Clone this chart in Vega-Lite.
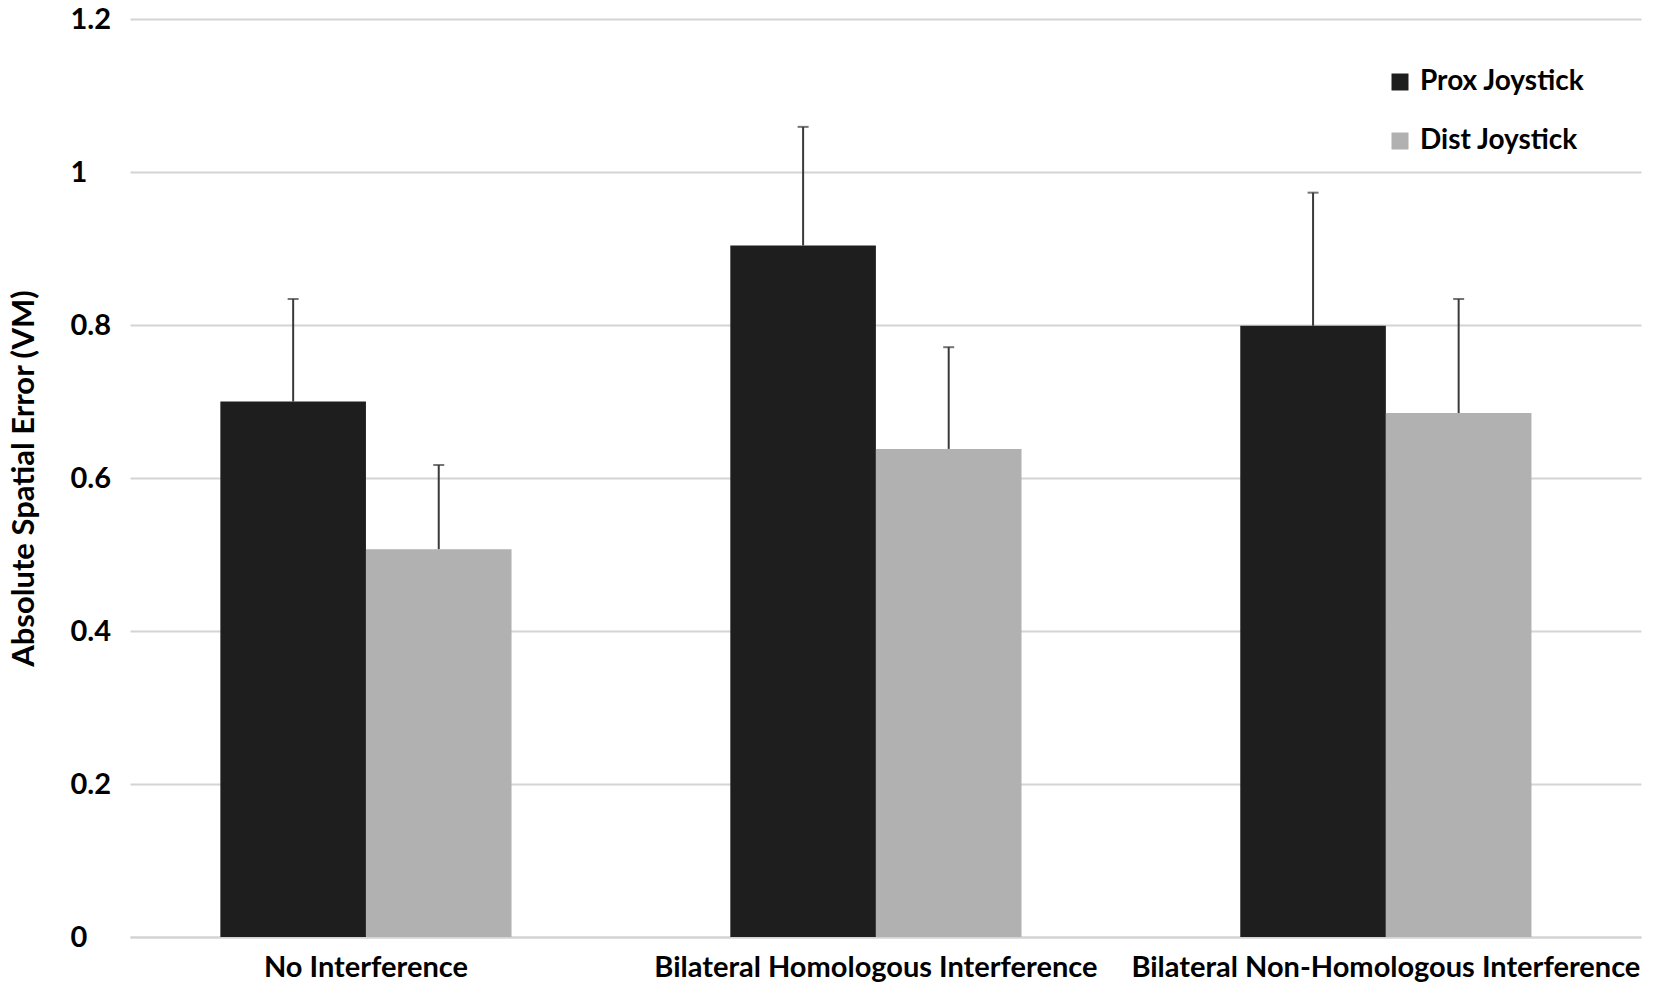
{
  "$schema": "https://vega.github.io/schema/vega-lite/v6.json",
  "width": 1511,
  "height": 918,
  "autosize": {"type": "none"},
  "padding": {"left": 130, "top": 19, "right": 13, "bottom": 57},
  "background": "white",
  "config": {
    "view": {"stroke": null},
    "font": "Lato",
    "axis": {"labelFont": "Lato", "labelFontWeight": "bold", "labelColor": "#000000", "titleFont": "Lato", "titleFontWeight": "bold", "titleColor": "#000000"},
    "legend": {"labelFont": "Lato", "labelFontWeight": "bold", "labelColor": "#000000"}
  },
  "data": {
    "values": [
      {"condition": "No Interference", "joystick": "Prox Joystick", "mean": 0.700, "upper": 0.834},
      {"condition": "No Interference", "joystick": "Dist Joystick", "mean": 0.507, "upper": 0.617},
      {"condition": "Bilateral Homologous Interference", "joystick": "Prox Joystick", "mean": 0.904, "upper": 1.059},
      {"condition": "Bilateral Homologous Interference", "joystick": "Dist Joystick", "mean": 0.638, "upper": 0.771},
      {"condition": "Bilateral Non-Homologous Interference", "joystick": "Prox Joystick", "mean": 0.799, "upper": 0.973},
      {"condition": "Bilateral Non-Homologous Interference", "joystick": "Dist Joystick", "mean": 0.685, "upper": 0.834}
    ]
  },
  "encoding": {
    "x": {
      "field": "condition",
      "type": "nominal",
      "sort": ["No Interference", "Bilateral Homologous Interference", "Bilateral Non-Homologous Interference"],
      "scale": {"paddingInner": 0.429, "paddingOuter": 0.196, "align": 0.452},
      "axis": {
        "title": null,
        "labelAngle": 0,
        "labelFontSize": 29,
        "labelBaseline": "alphabetic",
        "labelPadding": 39,
        "ticks": false,
        "tickSize": 0,
        "domainColor": "#d4d4d4",
        "domainWidth": 2,
        "labelLimit": 0
      }
    },
    "xOffset": {"field": "joystick", "type": "nominal", "sort": ["Prox Joystick", "Dist Joystick"]}
  },
  "layer": [
    {
      "mark": {"type": "bar"},
      "encoding": {
        "y": {
          "field": "mean",
          "type": "quantitative",
          "scale": {"domain": [0, 1.2], "nice": false},
          "axis": {
            "values": [0, 0.2, 0.4, 0.6, 0.8, 1, 1.2],
            "format": "~g",
            "grid": true,
            "gridColor": "#d4d4d4",
            "gridWidth": 2,
            "domain": false,
            "ticks": false,
            "tickSize": 0,
            "labelAlign": "left",
            "labelPadding": 60,
            "labelFontSize": 29,
            "title": "Absolute Spatial Error (VM)",
            "titleFontSize": 31,
            "titleAngle": -90,
            "titleX": -106,
            "titleY": 459,
            "titleAlign": "center",
            "titleBaseline": "middle"
          }
        },
        "color": {
          "field": "joystick",
          "type": "nominal",
          "scale": {"domain": ["Prox Joystick", "Dist Joystick"], "range": ["#1e1e1e", "#b1b1b1"]},
          "legend": {
            "title": null,
            "orient": "none",
            "legendX": 1256,
            "legendY": 49,
            "symbolType": "square",
            "symbolSize": 289,
            "symbolStrokeWidth": 0,
            "labelFontSize": 28,
            "labelLimit": 0,
            "labelOffset": 6,
            "rowPadding": 31
          }
        }
      }
    },
    {
      "mark": {"type": "rule", "color": "#3a3a3a", "strokeWidth": 2},
      "encoding": {
        "y": {"field": "mean", "type": "quantitative"},
        "y2": {"field": "upper"}
      }
    },
    {
      "mark": {"type": "tick", "orient": "horizontal", "color": "#3a3a3a", "size": 11, "thickness": 2},
      "encoding": {
        "y": {"field": "upper", "type": "quantitative"}
      }
    }
  ]
}
